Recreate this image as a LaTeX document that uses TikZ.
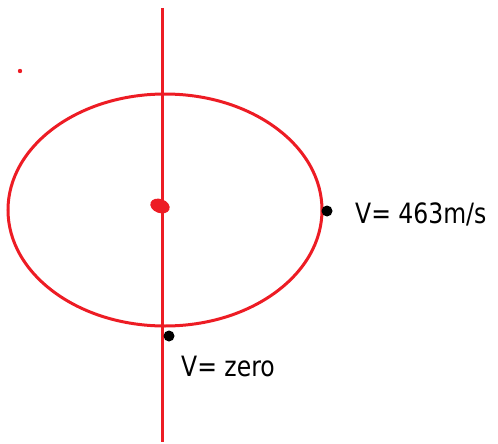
\documentclass[tikz,border=0pt]{standalone}
\usepackage{fontspec}
\setmainfont{DejaVu Sans}
\newfontfamily\handfont[FakeStretch=0.84]{DejaVu Sans}
\definecolor{penred}{RGB}{237,28,36}
\begin{document}
\begin{tikzpicture}[x=1pt, y=-1pt,
  redline/.style={line width=3pt,penred},
  bdot/.style={circle,fill=black,minimum size=11pt,inner sep=0pt},
  vlabel/.style={anchor=west,inner sep=0pt,font=\handfont\fontsize{28}{31}\selectfont}]
\useasboundingbox (0,0) rectangle (498,444);
% orbit and axis
\draw[redline] (165,210) ellipse [x radius=157, y radius=116];
\coordinate (top) at (162,8);
\coordinate (bot) at (162,442);
\draw[redline] (top) -- (bot);
\fill[penred, rotate around={-20:(160,206)}] (160,206) ellipse [x radius=10, y radius=7];
\fill[penred] (20,71) circle (2.2);
% marked points
\node[bdot, minimum height=9pt] (east) at (327,211) {};
\node[bdot] (south) at (169,336) {};
\node[vlabel] (veast) at (355,214) {V= 463m/s};
\node[vlabel] (vsouth) at (181,366) {V= zero};
\end{tikzpicture}
\end{document}
